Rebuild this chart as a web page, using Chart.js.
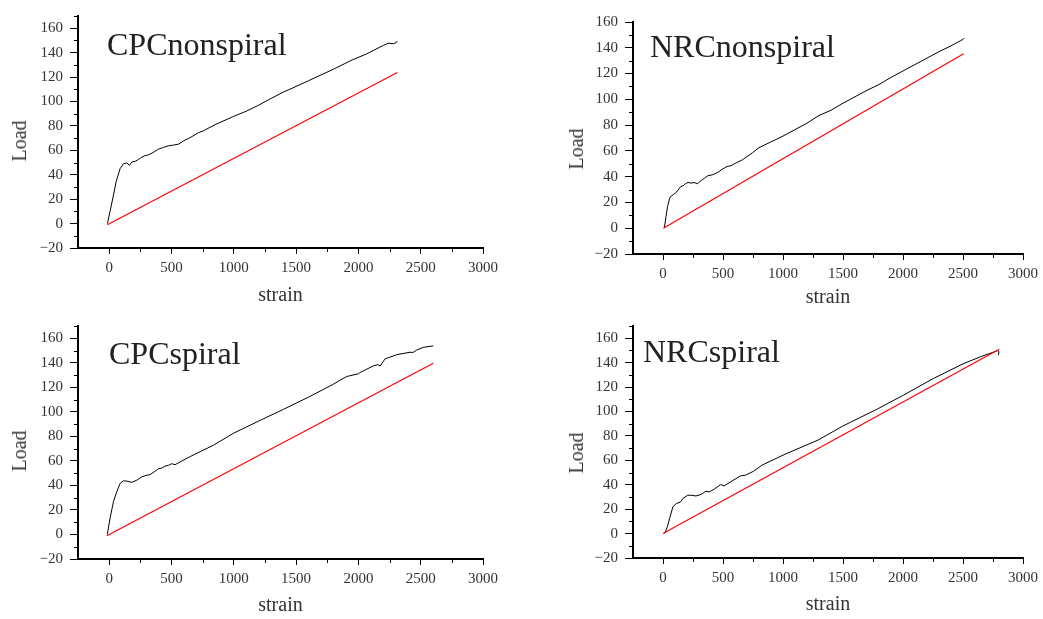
<!DOCTYPE html>
<html>
<head>
<meta charset="utf-8">
<script src="https://cdn.jsdelivr.net/npm/chart.js@4.4.0/dist/chart.umd.min.js"></script>
<style>
    body { margin: 0; background: #fff; width: 1043px; height: 619px; overflow: hidden; position: relative; font-family: "Liberation Serif", serif; }
    .panel { position: absolute; }
    .name { position: absolute; font-size: 32px; line-height: 1; color: #222; white-space: nowrap; }
    .ylab { position: absolute; font-size: 20px; line-height: 1; color: #333; white-space: nowrap; transform: translate(-50%, -50%) rotate(-90deg); }
</style>
</head>
<body>
<script>
// tick values shared by all four panels
var strainTicks = [0, 500, 1000, 1500, 2000, 2500, 3000];
var strainMinor = [250, 750, 1250, 1750, 2250, 2750];
var loadTicks = [-20, 0, 20, 40, 60, 80, 100, 120, 140, 160];
var loadMinor = [-10, 10, 30, 50, 70, 90, 110, 130, 150, 170];

// CPC nonspiral
var cpcNonStrain = [-14, 8, 30, 56, 88, 115, 142, 163, 182, 209, 235, 262, 289, 316, 356, 396, 436, 476, 516, 556, 596, 650, 716, 757, 850, 997, 1100, 1200, 1300, 1398, 1450, 1600, 1799, 1950, 2067, 2200, 2240, 2280, 2300, 2313];
var cpcNonLoad = [0, 10.4, 21, 34.4, 45, 49, 49.6, 47.7, 50.4, 51, 52.5, 54.4, 55.7, 56.3, 58.4, 61, 62.4, 63.7, 64.3, 65, 67.7, 70.4, 74.4, 76, 81, 87.7, 92, 97, 102.5, 107.7, 110, 117, 126.4, 134, 139, 145.9, 147.7, 147.3, 148, 149.6];
var cpcNonFitStrain = [-14, 2313];
var cpcNonFitLoad = [-1, 123.7];

// NRC nonspiral
var nrcNonStrain = [11, 25, 38, 58, 85, 113, 148, 168, 187, 209, 236, 258, 286, 319, 346, 374, 415, 456, 497, 533, 566, 607, 662, 745, 800, 900, 1000, 1100, 1200, 1300, 1400, 1500, 1600, 1700, 1800, 1900, 2000, 2100, 2200, 2300, 2400, 2480, 2500, 2510];
var nrcNonLoad = [0, 9, 16.8, 24.1, 26, 28, 32.4, 32.9, 34.5, 35.5, 35, 35.5, 34.5, 37, 38.9, 40.7, 41.5, 43.3, 45.9, 47.9, 48.5, 50.6, 53.1, 58.5, 62.5, 67, 71.5, 76.5, 81.5, 87.5, 91.5, 97, 102, 107, 111.5, 117, 122, 127, 132, 137, 141.5, 145.5, 146.5, 147.5];
var nrcNonFitStrain = [3, 2505];
var nrcNonFitLoad = [0, 135.3];

// CPC spiral
var cpcSpStrain = [-15, 8, 35, 62, 88, 115, 142, 182, 222, 262, 302, 329, 369, 396, 423, 449, 476, 503, 529, 583, 650, 730, 837, 997, 1200, 1398, 1600, 1799, 1853, 1906, 2000, 2013, 2120, 2160, 2174, 2214, 2308, 2414, 2441, 2468, 2521, 2601];
var cpcSpLoad = [0, 13.6, 27, 35, 41.7, 43.8, 43.5, 42.5, 44.3, 47, 48.3, 48.8, 51.6, 53.7, 54.2, 55.8, 56.4, 57.7, 56.9, 59.9, 63.5, 67.5, 72.8, 82.5, 92.5, 102, 112, 122.5, 125.8, 128.8, 131, 132, 137.5, 138.5, 137.3, 143.2, 146.6, 148.6, 148.5, 150.4, 152.6, 153.8];
var cpcSpFitStrain = [-18, 2601];
var cpcSpFitLoad = [-1, 139.7];

// NRC spiral
var nrcSpStrain = [14, 36, 55, 82, 110, 146, 165, 206, 234, 275, 316, 358, 385, 426, 481, 508, 563, 646, 687, 756, 824, 1017, 1291, 1497, 1786, 2006, 2253, 2500, 2650, 2789, 2800, 2795];
var nrcSpLoad = [0, 5.5, 12.3, 21.8, 24.6, 25.9, 28.7, 31.4, 31.4, 30.8, 32, 34.7, 34.1, 36.3, 40.2, 39, 42.3, 47.3, 47.8, 51.1, 56, 65, 76.5, 88, 102, 113.5, 127, 139, 145, 149.8, 149, 146.3];
var nrcSpFitStrain = [0, 2802];
var nrcSpFitLoad = [0, 151];

var panels = [
    { name: 'CPCnonspiral', x: 0, y: 0, w: 520, h: 310, top: 11, right: 37, yw: 78, xh: 62, yMax: 170, titlePad: 2,
      nameX: 107, nameY: 28, labX: 19, labY: 141,
      strain: cpcNonStrain, load: cpcNonLoad, fitS: cpcNonFitStrain, fitL: cpcNonFitLoad },
    { name: 'NRCnonspiral', x: 520, y: 0, w: 523, h: 310, top: 22, right: 16, yw: 113, xh: 56, yMax: 160, titlePad: 0,
      nameX: 650, nameY: 30, labX: 576, labY: 149,
      strain: nrcNonStrain, load: nrcNonLoad, fitS: nrcNonFitStrain, fitL: nrcNonFitLoad },
    { name: 'CPCspiral', x: 0, y: 310, w: 520, h: 309, top: 11, right: 37, yw: 78, xh: 60, yMax: 170, titlePad: 1,
      nameX: 109, nameY: 337, labX: 19, labY: 451,
      strain: cpcSpStrain, load: cpcSpLoad, fitS: cpcSpFitStrain, fitL: cpcSpFitLoad },
    { name: 'NRCspiral', x: 520, y: 310, w: 523, h: 309, top: 15, right: 16, yw: 113, xh: 61, yMax: 170, titlePad: 2,
      nameX: 643, nameY: 335, labX: 576, labY: 453,
      strain: nrcSpStrain, load: nrcSpLoad, fitS: nrcSpFitStrain, fitL: nrcSpFitLoad }
];

function toPoints(xs, ys) {
    return xs.map(function (v, i) { return { x: v, y: ys[i] }; });
}

// short minor ticks, placed through the chart's own scales
var minorTicks = {
    id: 'minorTicks',
    afterDraw: function (chart) {
        var ctx = chart.ctx, xs = chart.scales.x, ys = chart.scales.y, a = chart.chartArea;
        ctx.save();
        ctx.strokeStyle = '#000';
        ctx.lineWidth = 1;
        ctx.beginPath();
        loadMinor.forEach(function (v) {
            if (v > ys.max) return;
            var py = Math.round(ys.getPixelForValue(v)) + 0.5;
            ctx.moveTo(a.left - 4, py);
            ctx.lineTo(a.left, py);
        });
        strainMinor.forEach(function (v) {
            var px = Math.round(xs.getPixelForValue(v)) + 0.5;
            ctx.moveTo(px, a.bottom);
            ctx.lineTo(px, a.bottom + 4);
        });
        ctx.stroke();
        ctx.restore();
    }
};

var tickFont = { family: 'Liberation Serif', size: 15 };

panels.forEach(function (p) {
    var wrap = document.createElement('div');
    wrap.className = 'panel';
    wrap.style.left = p.x + 'px';
    wrap.style.top = p.y + 'px';
    var canvas = document.createElement('canvas');
    canvas.width = p.w;
    canvas.height = p.h;
    wrap.appendChild(canvas);
    document.body.appendChild(wrap);

    var name = document.createElement('div');
    name.className = 'name';
    name.textContent = p.name;
    name.style.left = p.nameX + 'px';
    name.style.top = p.nameY + 'px';
    document.body.appendChild(name);

    var lab = document.createElement('div');
    lab.className = 'ylab';
    lab.textContent = 'Load';
    lab.style.left = p.labX + 'px';
    lab.style.top = p.labY + 'px';
    document.body.appendChild(lab);

    new Chart(canvas.getContext('2d'), {
        type: 'line',
        data: {
            datasets: [
                { data: toPoints(p.fitS, p.fitL), borderColor: '#ff0000', borderWidth: 1.2, pointRadius: 0, tension: 0 },
                { data: toPoints(p.strain, p.load), borderColor: '#000000', borderWidth: 1, pointRadius: 0, tension: 0 }
            ]
        },
        options: {
            responsive: false,
            animation: false,
            layout: { padding: { top: p.top, right: p.right, left: 0, bottom: 0 } },
            plugins: { legend: { display: false }, tooltip: { enabled: false } },
            scales: {
                x: {
                    type: 'linear', min: -250, max: 3000,
                    afterBuildTicks: function (s) { s.ticks = strainTicks.map(function (v) { return { value: v }; }); },
                    afterFit: function (s) { s.height = p.xh; },
                    ticks: { font: tickFont, color: '#333', padding: 5, maxRotation: 0, autoSkip: false,
                        callback: function (v) { return String(v); } },
                    grid: { drawOnChartArea: false, tickLength: 6, tickColor: '#000', tickWidth: 1 },
                    border: { color: '#000', width: 2 },
                    title: { display: true, text: 'strain', color: '#333',
                        font: { family: 'Liberation Serif', size: 20 }, padding: { top: 0, bottom: p.titlePad } }
                },
                y: {
                    type: 'linear', min: -20, max: p.yMax,
                    afterBuildTicks: function (s) { s.ticks = loadTicks.map(function (v) { return { value: v }; }); },
                    afterFit: function (s) { s.width = p.yw; },
                    ticks: { font: tickFont, color: '#333', padding: 7, autoSkip: false,
                        callback: function (v) { return v < 0 ? '\u2212' + Math.abs(v) : String(v); } },
                    grid: { drawOnChartArea: false, tickLength: 8, tickColor: '#000', tickWidth: 1 },
                    border: { color: '#000', width: 2 }
                }
            }
        },
        plugins: [minorTicks]
    });
});
</script>
</body>
</html>
